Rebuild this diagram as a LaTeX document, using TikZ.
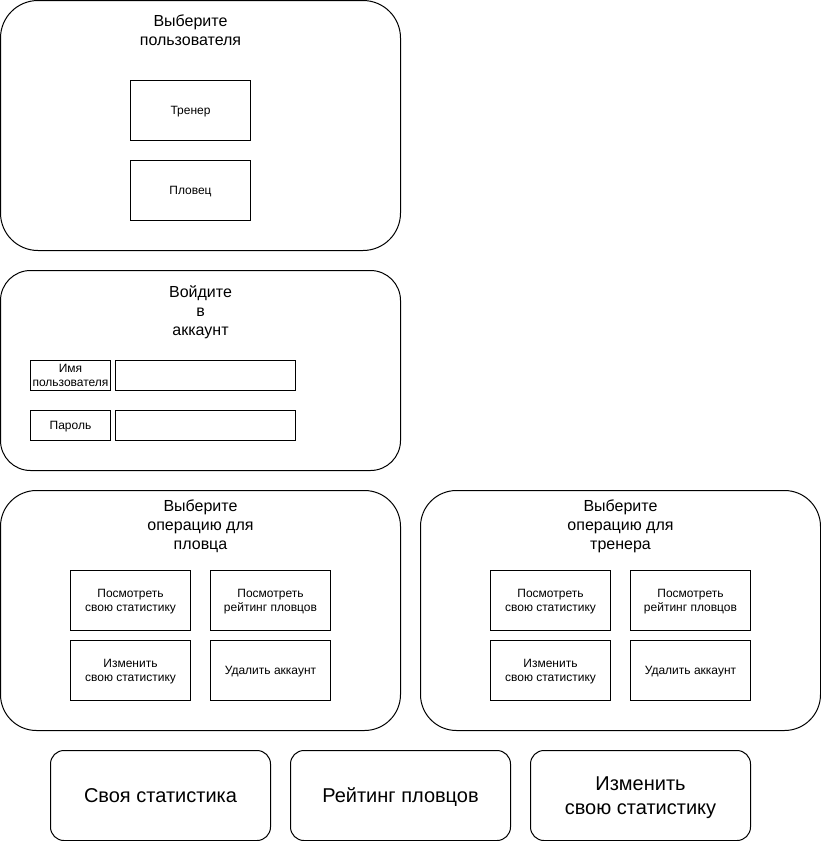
\documentclass[tikz,border=0pt]{standalone}
\usepackage{fontspec}
\setmainfont{Liberation Sans}
% line box of 1.2em with the baseline placed as in a browser
\newcommand\lnstrut{\rule[-0.2535em]{0pt}{1.2em}}
% text of a box, padded to full line boxes above and below
\newcommand\bt[1]{\lnstrut#1\lnstrut}
\begin{document}
\begin{tikzpicture}[x=1pt,y=-1pt,
  panel/.style={draw, line width=1pt, inner sep=0pt, rounded corners=#1},
  title/.style={align=center, inner sep=0pt, font=\fontsize{16}{19}\selectfont},
  optbox/.style={draw, line width=1pt, inner sep=0pt, minimum width=120pt,
    minimum height=60pt, align=center, font=\fontsize{12}{14.4}\selectfont},
  fieldlabel/.style={draw, line width=1pt, inner sep=0pt, minimum width=80pt,
    minimum height=30pt, align=center, font=\fontsize{12}{14.4}\selectfont},
  fieldinput/.style={draw, line width=1pt, inner sep=0pt, minimum width=180pt,
    minimum height=30pt},
  screen/.style={draw, line width=1pt, inner sep=0pt, rounded corners=13.5pt,
    minimum width=220pt, minimum height=90pt, align=center,
    font=\fontsize{20}{24}\selectfont}
]
\useasboundingbox (0,0) rectangle (821,841);

% user choice
\node[panel=37.5pt, minimum width=400pt, minimum height=250pt] (p1) at (200.5,125.5) {};
\node[title] (t1) at (190.5,30) {Выберите\\пользователя};
\node[optbox] (coach) at (190.5,110.5) {\bt{Тренер}};
\node[optbox] (swimmer) at (190.5,190.5) {\bt{Пловец}};

% login
\node[panel=30pt, minimum width=400pt, minimum height=200pt] (p2) at (200.5,370.5) {};
\node[title] (t2) at (200.5,312) {Войдите\\в\\аккаунт};
\node[fieldlabel] (lname) at (70.5,375.5) {\bt{Имя\\пользователя}};
\node[fieldinput] (iname) at (205.5,375.5) {};
\node[fieldlabel] (lpass) at (70.5,425.5) {\bt{Пароль}};
\node[fieldinput] (ipass) at (205.5,425.5) {};

% swimmer operations
\node[panel=36pt, minimum width=400pt, minimum height=240pt] (p3) at (200.5,610.5) {};
\node[title] (t3) at (200.5,526) {Выберите\\операцию для\\пловца};
\node[optbox] (s1) at (130.5,600.5) {\bt{Посмотреть\\свою статистику}};
\node[optbox] (s2) at (270.5,600.5) {\bt{Посмотреть\\рейтинг пловцов}};
\node[optbox] (s3) at (130.5,670.5) {\bt{Изменить\\свою статистику}};
\node[optbox] (s4) at (270.5,670.5) {\bt{Удалить аккаунт}};

% coach operations
\node[panel=36pt, minimum width=400pt, minimum height=240pt] (p4) at (620.5,610.5) {};
\node[title] (t4) at (620.5,526) {Выберите\\операцию для\\тренера};
\node[optbox] (c1) at (550.5,600.5) {\bt{Посмотреть\\свою статистику}};
\node[optbox] (c2) at (690.5,600.5) {\bt{Посмотреть\\рейтинг пловцов}};
\node[optbox] (c3) at (550.5,670.5) {\bt{Изменить\\свою статистику}};
\node[optbox] (c4) at (690.5,670.5) {\bt{Удалить аккаунт}};

% result screens
\node[screen] (own) at (160.5,795.5) {\bt{Своя статистика}};
\node[screen] (rank) at (400.5,795.5) {\bt{Рейтинг пловцов}};
\node[screen] (edit) at (640.5,795.5) {\bt{Изменить\\свою статистику}};
\end{tikzpicture}
\end{document}
